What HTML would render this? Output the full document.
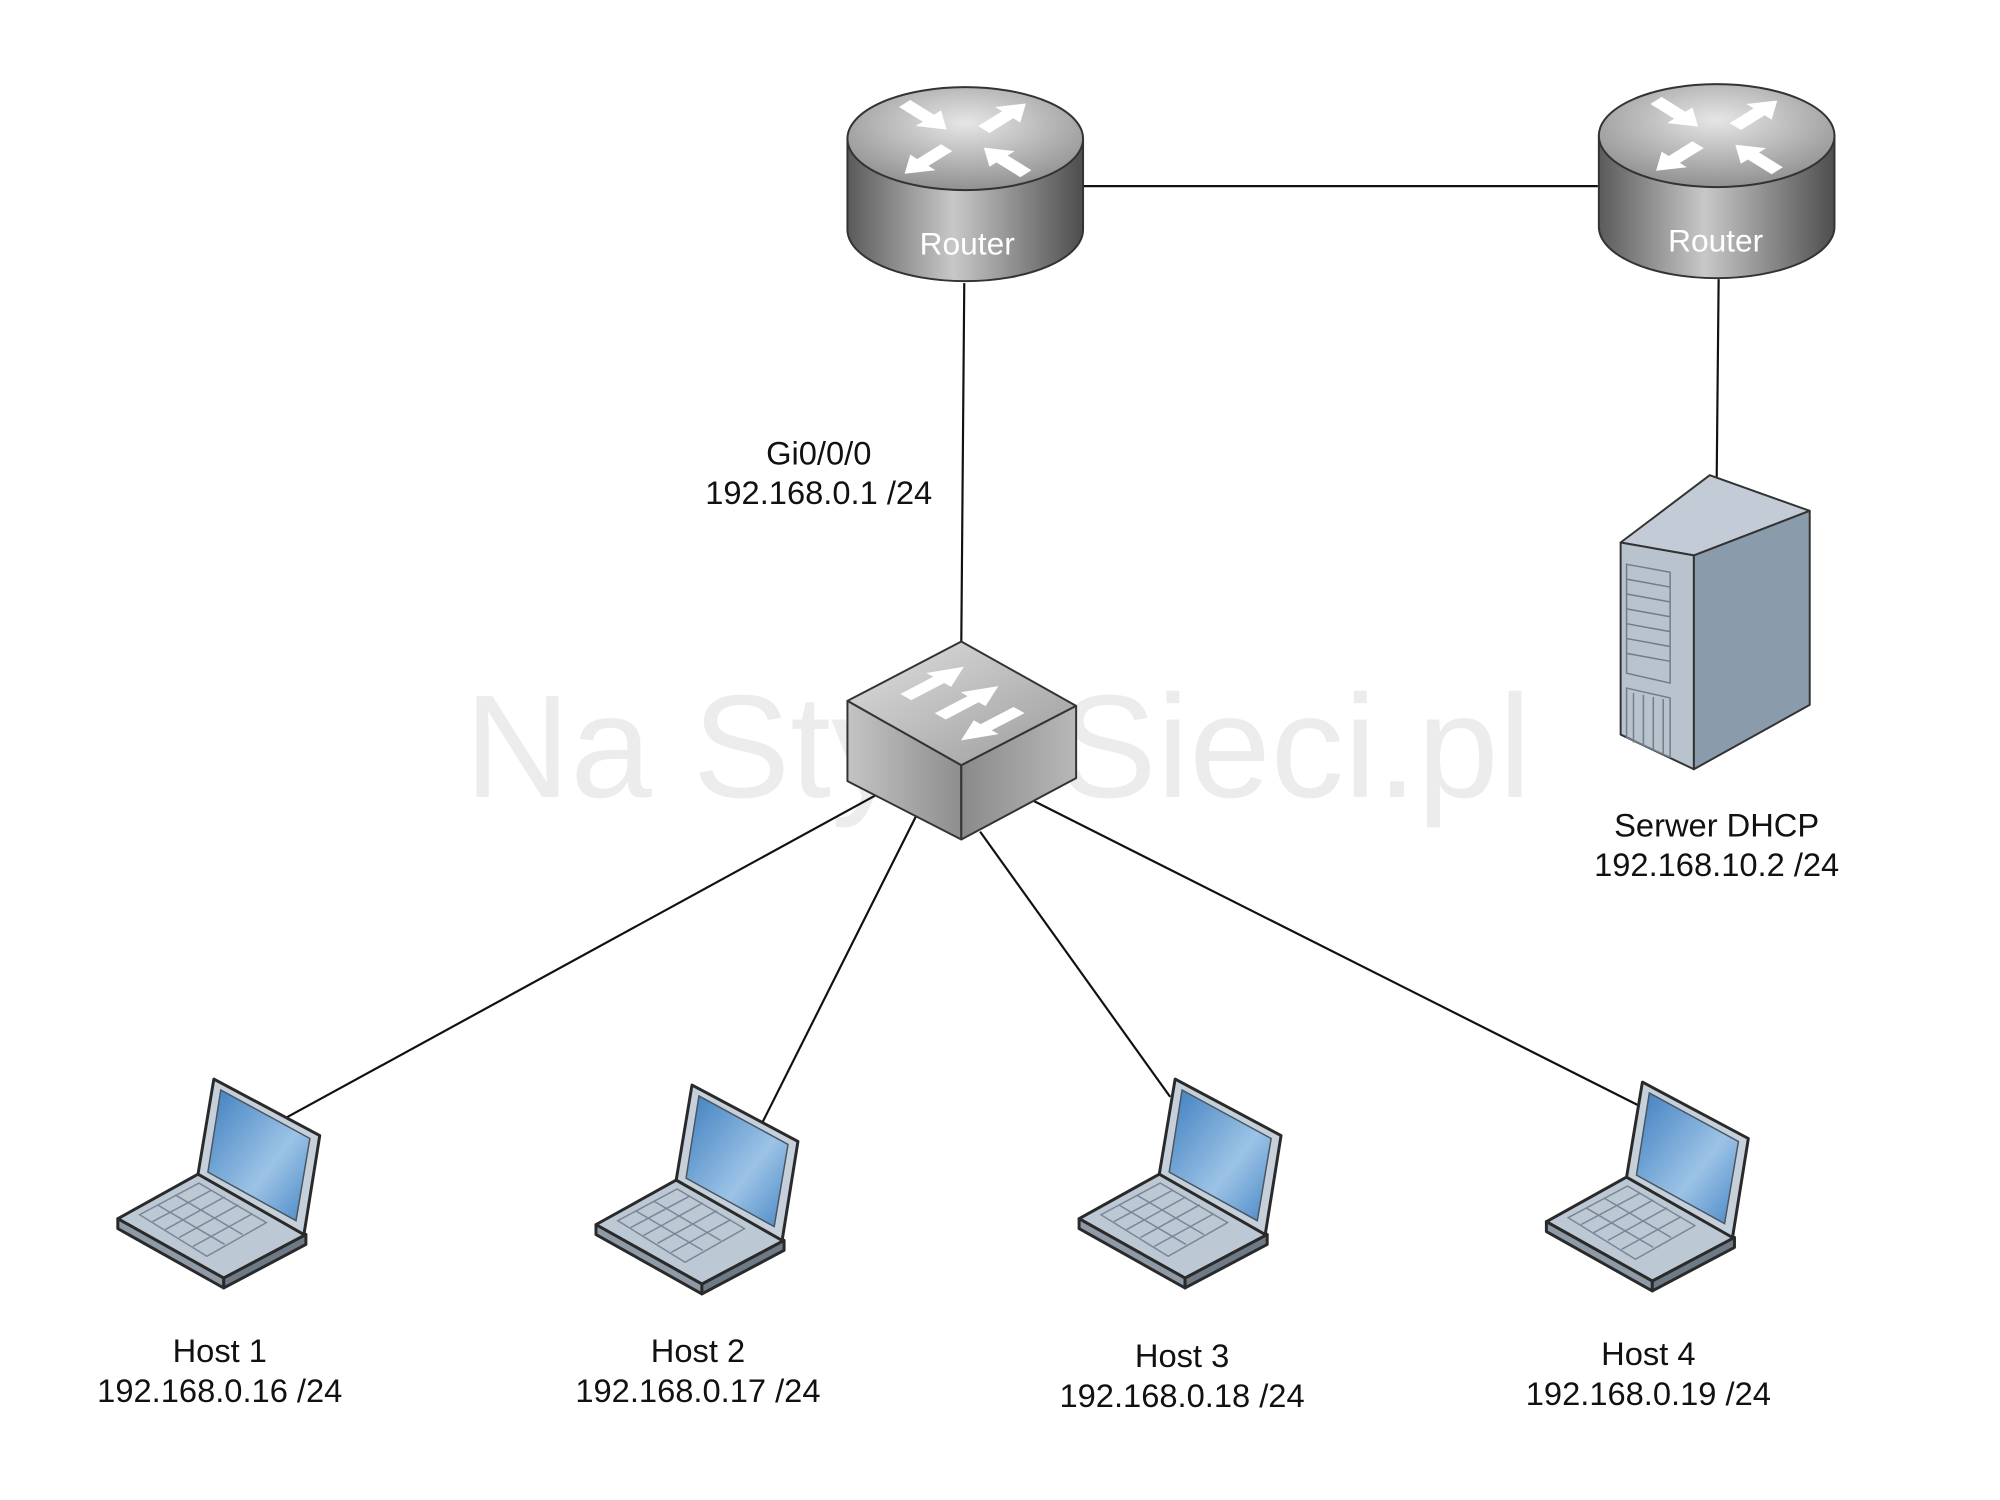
<!DOCTYPE html>
<html><head><meta charset="utf-8"><style>
html,body{margin:0;padding:0;background:#fff;}
svg{display:block;}
text{font-family:"Liberation Sans",sans-serif;}
</style></head><body>
<svg width="2000" height="1500" viewBox="0 0 2000 1500" xmlns="http://www.w3.org/2000/svg">
<defs>
<linearGradient id="cylSide" x1="0" x2="1" y1="0" y2="0">
<stop offset="0" stop-color="#5a5a5a"/><stop offset="0.45" stop-color="#c8c8c8"/><stop offset="1" stop-color="#4e4e4e"/>
</linearGradient>
<radialGradient id="cylTop" cx="0.5" cy="0.35" r="0.7">
<stop offset="0" stop-color="#e6e6e6"/><stop offset="1" stop-color="#8a8a8a"/>
</radialGradient>
<linearGradient id="swTop" x1="0" y1="0" x2="1" y2="1">
<stop offset="0" stop-color="#e0e0e0"/><stop offset="1" stop-color="#9a9a9a"/>
</linearGradient>
<linearGradient id="swL" x1="0" y1="0" x2="1" y2="0">
<stop offset="0" stop-color="#c4c4c4"/><stop offset="1" stop-color="#8e8e8e"/>
</linearGradient>
<linearGradient id="swR" x1="0" y1="0" x2="1" y2="0">
<stop offset="0" stop-color="#8a8a8a"/><stop offset="1" stop-color="#b8b8b8"/>
</linearGradient>
<linearGradient id="scr" x1="0" y1="0" x2="1" y2="1">
<stop offset="0" stop-color="#3f7fc0"/><stop offset="0.6" stop-color="#9cc3e6"/><stop offset="1" stop-color="#4a88c6"/>
</linearGradient>
<polygon id="arr" points="-30,-8 4,-8 4,-18 30,0 4,18 4,8 -30,8" fill="#fff"/>
<g id="laptop">
<polygon points="0,144 81,99 190,160 107,204" fill="#bcc8d4" stroke="#2a2a2a" stroke-width="3" stroke-linejoin="round"/>
<polygon points="0,144 107,204 107,214 0,154" fill="#8e9aa6" stroke="#2a2a2a" stroke-width="3" stroke-linejoin="round"/>
<polygon points="107,204 190,160 190,170 107,214" fill="#6e7a86" stroke="#2a2a2a" stroke-width="3" stroke-linejoin="round"/>
<polygon points="97,3 204,60 188,160 81,99" fill="#c6d0da" stroke="#2a2a2a" stroke-width="3" stroke-linejoin="round"/>
<polygon points="104,14 194,63 180,146 91,97" fill="url(#scr)" stroke="#4a5560" stroke-width="1.5"/>
<g stroke="#7a8693" stroke-width="1.5" fill="none">
<polygon points="22,140 82,108 150,148 90,182"/>
<line x1="35" y1="147" x2="95" y2="115"/><line x1="48" y1="155" x2="108" y2="122"/>
<line x1="62" y1="163" x2="122" y2="130"/><line x1="76" y1="172" x2="136" y2="139"/>
<line x1="40" y1="130" x2="108" y2="170"/><line x1="58" y1="120" x2="126" y2="160"/>
</g>
</g>
<g id="router">
<path d="M-119,0 L-119,92 A119,52 0 0 0 119,92 L119,0 Z" fill="url(#cylSide)" stroke="#333" stroke-width="2"/>
<ellipse cx="0" cy="0" rx="119" ry="52" fill="url(#cylTop)" stroke="#333" stroke-width="2"/>
<g transform="scale(1,0.62)">
<use href="#arr" transform="translate(-40,-36) rotate(45)"/>
<use href="#arr" transform="translate(40,-36) rotate(-45)"/>
<use href="#arr" transform="translate(-40,36) rotate(135)"/>
<use href="#arr" transform="translate(40,36) rotate(-135)"/>
</g>
</g>
</defs>
<g transform="scale(0.99)">
<text x="1008" y="805" font-size="148" fill="#ececec" text-anchor="middle">Na Stylu Sieci.pl</text>

<g stroke="#111" stroke-width="2.2" fill="none">
<line x1="1094" y1="188" x2="1614" y2="188"/>
<line x1="974" y1="286" x2="971" y2="650"/>
<line x1="1736" y1="282" x2="1734" y2="487"/>
<line x1="887" y1="802" x2="289" y2="1129"/>
<line x1="925" y1="825" x2="770" y2="1134"/>
<line x1="990" y1="840" x2="1182" y2="1108"/>
<line x1="1044" y1="809" x2="1654" y2="1116"/>
</g>

<use href="#router" x="975" y="140"/>
<use href="#router" x="1734" y="137"/>

<polygon points="971,648 856,708 971,773 1087,713" fill="url(#swTop)" stroke="#333" stroke-width="2" stroke-linejoin="round"/>
<polygon points="856,708 971,773 971,848 856,789" fill="url(#swL)" stroke="#333" stroke-width="2" stroke-linejoin="round"/>
<polygon points="971,773 1087,713 1087,786 971,848" fill="url(#swR)" stroke="#333" stroke-width="2" stroke-linejoin="round"/>
<g transform="matrix(1.16,0.65,-1.15,0.60,971,710)">
<use href="#arr" transform="translate(-28,-5) rotate(-90) scale(0.85,0.6)"/>
<use href="#arr" transform="translate(2,-5) rotate(-90) scale(0.85,0.6)"/>
<use href="#arr" transform="translate(30,5) rotate(90) scale(0.85,0.6)"/>
</g>

<polygon points="1727,480 1637,548 1711,561 1828,516" fill="#c3ccd6" stroke="#333" stroke-width="2" stroke-linejoin="round"/>
<polygon points="1637,548 1711,561 1711,777 1637,742" fill="#b9c3ce" stroke="#333" stroke-width="2" stroke-linejoin="round"/>
<polygon points="1711,561 1828,516 1828,712 1711,777" fill="#8a9bab" stroke="#333" stroke-width="2" stroke-linejoin="round"/>
<g stroke="#6f7c89" stroke-width="1.5" fill="none">
<polygon points="1643,570 1687,578 1687,690 1643,680"/>
<line x1="1643" y1="585" x2="1687" y2="593"/><line x1="1643" y1="600" x2="1687" y2="608"/>
<line x1="1643" y1="615" x2="1687" y2="623"/><line x1="1643" y1="630" x2="1687" y2="638"/>
<line x1="1643" y1="645" x2="1687" y2="653"/><line x1="1643" y1="660" x2="1687" y2="668"/>
<polygon points="1643,695 1687,705 1687,765 1643,745"/>
<line x1="1650" y1="700" x2="1650" y2="750"/><line x1="1660" y1="702" x2="1660" y2="754"/>
<line x1="1670" y1="704" x2="1670" y2="758"/><line x1="1680" y1="706" x2="1680" y2="762"/>
</g>

<use href="#laptop" x="119" y="1087"/>
<use href="#laptop" x="602" y="1093"/>
<use href="#laptop" x="1090" y="1087"/>
<use href="#laptop" x="1562" y="1090"/>

<g font-size="33" fill="#111" text-anchor="middle">
<text x="977" y="257" fill="#fff" font-size="32">Router</text>
<text x="1733" y="254" fill="#fff" font-size="32">Router</text>
<text x="827" y="469">Gi0/0/0</text>
<text x="827" y="509">192.168.0.1 /24</text>
<text x="1734" y="845">Serwer DHCP</text>
<text x="1734" y="885">192.168.10.2 /24</text>
<text x="222" y="1376">Host 1</text>
<text x="222" y="1416">192.168.0.16 /24</text>
<text x="705" y="1376">Host 2</text>
<text x="705" y="1416">192.168.0.17 /24</text>
<text x="1194" y="1381">Host 3</text>
<text x="1194" y="1421">192.168.0.18 /24</text>
<text x="1665" y="1379">Host 4</text>
<text x="1665" y="1419">192.168.0.19 /24</text>
</g>
</g>
</svg>
</body></html>
